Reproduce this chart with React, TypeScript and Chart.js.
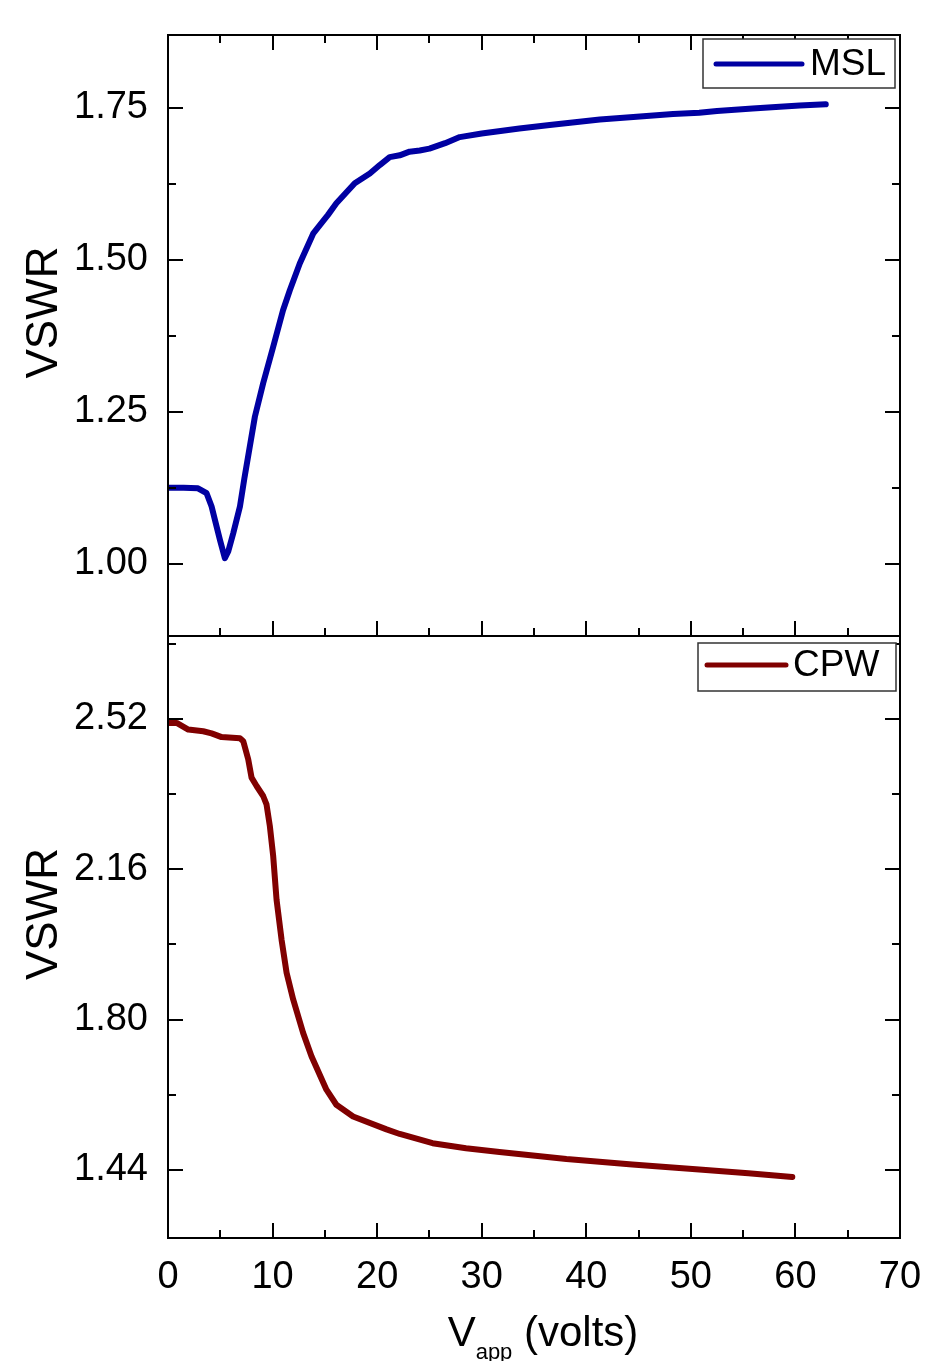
import React, { useEffect, useRef } from "react";
import { Chart, registerables } from "chart.js";

Chart.register(...registerables);

// ---------- data ----------
const xTicks = [0, 10, 20, 30, 40, 50, 60, 70];

const mslYTicks = [1.0, 1.25, 1.5, 1.75];
const cpwYTicks = [1.44, 1.8, 2.16, 2.52];

const mslV = [0, 1.5, 2.87, 3.69, 4.17, 4.49, 4.97, 5.44, 5.76, 6.24, 6.88, 7.3, 8.31, 9.1, 10.06, 11.0, 11.65, 12.6, 13.88, 14.52, 15.3, 16.1, 17.86, 19.3, 20.25, 21.2, 22.16, 23.1, 24.07, 25.0, 26.5, 27.9, 30.0, 33.6, 36.5, 41.3, 44.5, 48.3, 50.8, 52.5, 55.9, 58.5, 60.4, 62.9];
const mslVswr = [1.125, 1.125, 1.124, 1.116, 1.094, 1.072, 1.039, 1.009, 1.02, 1.05, 1.094, 1.14, 1.242, 1.297, 1.357, 1.417, 1.45, 1.494, 1.543, 1.557, 1.574, 1.593, 1.626, 1.642, 1.656, 1.669, 1.672, 1.678, 1.68, 1.683, 1.692, 1.702, 1.708, 1.716, 1.722, 1.731, 1.735, 1.74, 1.742, 1.745, 1.749, 1.752, 1.754, 1.756];

const cpwV = [0, 0.83, 1.94, 3.37, 4.17, 5.13, 6.88, 7.2, 7.67, 7.99, 8.47, 9.1, 9.42, 9.74, 10.06, 10.38, 10.86, 11.34, 11.97, 12.92, 13.72, 15.15, 16.1, 17.7, 20.9, 22.16, 25.3, 28.5, 31.7, 38.1, 44.4, 50.8, 55.5, 59.7];
const cpwVswr = [2.51, 2.51, 2.494, 2.49, 2.485, 2.476, 2.473, 2.466, 2.423, 2.379, 2.359, 2.335, 2.315, 2.263, 2.191, 2.087, 1.991, 1.912, 1.848, 1.768, 1.712, 1.632, 1.596, 1.568, 1.537, 1.526, 1.504, 1.492, 1.483, 1.466, 1.453, 1.441, 1.432, 1.423];

const FONT = "'Liberation Sans', Arial, Helvetica, sans-serif";

// ---------- frame / ticks / labels plugin ----------
const framePlugin = {
  id: "frame",
  afterDraw(chart: any, _args: any, opts: any) {
    const ctx = chart.ctx;
    const ca = chart.chartArea;
    const xs = chart.scales.x;
    const ys = chart.scales.y;
    ctx.save();
    ctx.strokeStyle = "#000";
    ctx.lineWidth = 2;
    ctx.lineCap = "butt";
    ctx.strokeRect(ca.left, ca.top, ca.right - ca.left, ca.bottom - ca.top);

    // x ticks (major + minor)
    for (let v = 5; v < 70; v += 5) {
      const px = Math.round(xs.getPixelForValue(v));
      const len = v % 10 === 0 ? 15 : 8;
      ctx.beginPath();
      if (opts.topTicks) {
        ctx.moveTo(px, ca.top);
        ctx.lineTo(px, ca.top + len);
      }
      ctx.moveTo(px, ca.bottom);
      ctx.lineTo(px, ca.bottom - len);
      ctx.stroke();
    }
    // y ticks
    const yt: number[] = opts.yTicks;
    const step = yt[1] - yt[0];
    const drawY = (v: number, len: number) => {
      if (v <= ys.min || v >= ys.max) return;
      const py = Math.round(ys.getPixelForValue(v));
      ctx.beginPath();
      ctx.moveTo(ca.left, py);
      ctx.lineTo(ca.left + len, py);
      ctx.moveTo(ca.right, py);
      ctx.lineTo(ca.right - len, py);
      ctx.stroke();
    };
    yt.forEach((v) => drawY(v, 15));
    for (let i = -1; i < yt.length; i++) drawY(yt[0] + (i + 0.5) * step, 8);

    // y title
    ctx.fillStyle = "#000";
    ctx.font = `44px ${FONT}`;
    ctx.textAlign = "center";
    ctx.textBaseline = "alphabetic";
    ctx.save();
    ctx.translate(57, (ca.top + ca.bottom) / 2 - 23);
    ctx.rotate(-Math.PI / 2);
    ctx.fillText("VSWR", 0, 0);
    ctx.restore();

    // legend
    const lg = opts.legend;
    const ds = chart.data.datasets[0];
    ctx.lineWidth = 1.5;
    ctx.strokeStyle = "#333";
    ctx.fillStyle = "#fff";
    ctx.fillRect(lg.x0, lg.y0, lg.x1 - lg.x0, lg.y1 - lg.y0);
    ctx.strokeRect(lg.x0, lg.y0, lg.x1 - lg.x0, lg.y1 - lg.y0);
    ctx.strokeStyle = ds.borderColor;
    ctx.lineWidth = 5;
    ctx.lineCap = "round";
    ctx.beginPath();
    ctx.moveTo(lg.lx0, lg.ly);
    ctx.lineTo(lg.lx1, lg.ly);
    ctx.stroke();
    ctx.fillStyle = "#000";
    ctx.font = `37px ${FONT}`;
    ctx.textAlign = "left";
    ctx.textBaseline = "middle";
    ctx.fillText(ds.label, lg.tx, lg.ly + 1);

    // x title
    if (opts.xTitle) {
      const big = `42px ${FONT}`;
      const small = `22px ${FONT}`;
      ctx.font = big;
      const wV = ctx.measureText("V").width;
      const wRest = ctx.measureText(" (volts)").width;
      ctx.font = small;
      const wSub = ctx.measureText("app").width;
      const total = wV + wSub + wRest;
      let x = 543 - total / 2;
      const base = opts.xTitleBase;
      ctx.textAlign = "left";
      ctx.textBaseline = "alphabetic";
      ctx.font = big;
      ctx.fillText("V", x, base);
      x += wV;
      ctx.font = small;
      ctx.fillText("app", x, base + 13);
      x += wSub;
      ctx.font = big;
      ctx.fillText(" (volts)", x, base);
    }
    ctx.restore();
  },
};

function makeConfig(
  label: string,
  xs: number[],
  ys: number[],
  color: string,
  yMin: number,
  yMax: number,
  yTicks: number[],
  decimals: number,
  isBottom: boolean,
  legend: any,
  padTop: number,
  padBottom: number
): any {
  return {
    type: "line",
    data: {
      datasets: [
        {
          label,
          data: xs.map((x, i) => ({ x, y: ys[i] })),
          borderColor: color,
          borderWidth: 6,
          pointRadius: 0,
          tension: 0,
          fill: false,
          borderJoinStyle: "round",
          borderCapStyle: "round",
        },
      ],
    },
    options: {
      responsive: false,
      animation: false,
      devicePixelRatio: 1,
      layout: { padding: { top: padTop, right: 28, bottom: padBottom, left: 0 } },
      plugins: {
        legend: { display: false },
        tooltip: { enabled: false },
        frame: {
          topTicks: !isBottom,
          yTicks,
          legend,
          xTitle: isBottom,
          xTitleBase: 716,
        },
      },
      scales: {
        x: {
          type: "linear",
          min: 0,
          max: 70,
          display: isBottom,
          grid: { display: false, drawTicks: false, tickLength: 0 },
          border: { display: false },
          afterBuildTicks: (s: any) => {
            s.ticks = xTicks.map((v) => ({ value: v }));
          },
          afterFit: (s: any) => {
            if (isBottom) s.height = 123;
            s.paddingLeft = 0;
            s.paddingRight = 0;
            s.paddingTop = 0;
            s.paddingBottom = 0;
          },
          ticks: {
            autoSkip: false,
            maxRotation: 0,
            padding: 17,
            color: "#000",
            font: { family: FONT, size: 38 },
            callback: (v: any) => String(v),
          },
        },
        y: {
          type: "linear",
          min: yMin,
          max: yMax,
          grid: { display: false, drawTicks: false, tickLength: 0 },
          border: { display: false },
          afterBuildTicks: (s: any) => {
            s.ticks = yTicks.map((v) => ({ value: v }));
          },
          afterFit: (s: any) => {
            s.width = 168;
            s.paddingTop = 0;
            s.paddingBottom = 0;
            s.paddingLeft = 0;
            s.paddingRight = 0;
          },
          ticks: {
            autoSkip: false,
            padding: 20,
            color: "#000",
            font: { family: FONT, size: 38 },
            callback: (v: any) => Number(v).toFixed(decimals),
          },
        },
      },
    },
    plugins: [framePlugin],
  };
}

export default function App() {
  const topRef = useRef<HTMLCanvasElement | null>(null);
  const botRef = useRef<HTMLCanvasElement | null>(null);

  useEffect(() => {
    const c1 = new Chart(
      topRef.current as HTMLCanvasElement,
      makeConfig(
        "MSL",
        mslV,
        mslVswr,
        "#0000a2",
        0.881,
        1.87,
        mslYTicks,
        2,
        false,
        { x0: 703, y0: 39, x1: 895, y1: 88, lx0: 716, lx1: 802, ly: 64, tx: 810 },
        35,
        4
      )
    );
    const c2 = new Chart(
      botRef.current as HTMLCanvasElement,
      makeConfig(
        "CPW",
        cpwV,
        cpwVswr,
        "#800000",
        1.277,
        2.718,
        cpwYTicks,
        2,
        true,
        { x0: 698, y0: 13, x1: 896, y1: 61, lx0: 707, lx1: 786, ly: 35, tx: 793 },
        6,
        0
      )
    );
    return () => {
      c1.destroy();
      c2.destroy();
    };
  }, []);

  return (
    <div style={{ position: "absolute", left: 0, top: 0, width: 928, height: 1361, background: "#fff" }}>
      <canvas
        ref={topRef}
        width={928}
        height={640}
        style={{ position: "absolute", left: 0, top: 0, width: 928, height: 640 }}
      />
      <canvas
        ref={botRef}
        width={928}
        height={731}
        style={{ position: "absolute", left: 0, top: 630, width: 928, height: 731 }}
      />
    </div>
  );
}
